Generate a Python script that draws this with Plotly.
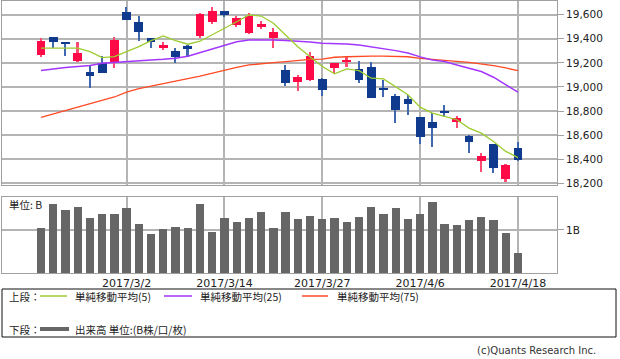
import plotly.graph_objects as go

dates = ["2017/2/21", "2017/2/22", "2017/2/23", "2017/2/24", "2017/2/27", "2017/2/28",
         "2017/3/1", "2017/3/2", "2017/3/3", "2017/3/6", "2017/3/7", "2017/3/8", "2017/3/9",
         "2017/3/10", "2017/3/13", "2017/3/14", "2017/3/15", "2017/3/16", "2017/3/17",
         "2017/3/21", "2017/3/22", "2017/3/23", "2017/3/24", "2017/3/27", "2017/3/28",
         "2017/3/29", "2017/3/30", "2017/3/31", "2017/4/3", "2017/4/4", "2017/4/5",
         "2017/4/6", "2017/4/7", "2017/4/10", "2017/4/11", "2017/4/12", "2017/4/13",
         "2017/4/14", "2017/4/17", "2017/4/18"]

opens = [19262, 19412, 19371, 19218, 19127, 19197, 19210, 19625, 19542, 19404,
         19330, 19301, 19340, 19423, 19537, 19631, 19515, 19446, 19500, 19409,
         19141, 19044, 19058, 19066, 19155, 19212, 19147, 19163, 18989, 18928,
         18898, 18753, 18707, 18795, 18707, 18596, 18386, 18527, 18234, 18496]
highs = [19405, 19412, 19371, 19376, 19174, 19260, 19417, 19666, 19589, 19404,
         19371, 19326, 19345, 19612, 19661, 19631, 19589, 19612, 19548, 19487,
         19183, 19100, 19293, 19077, 19200, 19246, 19216, 19205, 19058, 18939,
         18934, 18753, 18782, 18850, 18759, 18598, 18455, 18530, 18358, 18546]
lows = [19245, 19321, 19257, 19205, 18994, 19114, 19160, 19556, 19384, 19326,
        19307, 19197, 19251, 19410, 19523, 19583, 19500, 19440, 19484, 19326,
        19011, 18969, 19050, 18925, 19114, 19168, 19036, 18906, 18914, 18699,
        18768, 18524, 18504, 18753, 18657, 18450, 18297, 18284, 18214, 18386]
closes = [19385, 19371, 19357, 19280, 19094, 19114, 19390, 19556, 19459, 19371,
          19346, 19251, 19313, 19606, 19633, 19598, 19575, 19589, 19523, 19459,
          19031, 19085, 19260, 18975, 19197, 19220, 19058, 18906, 18975, 18809,
          18856, 18587, 18662, 18788, 18745, 18546, 18427, 18330, 18353, 18394]

ma5 = [19322, 19322, 19316, 19322, 19294, 19244, 19252, 19294, 19335, 19385,
       19424, 19385, 19355, 19380, 19432, 19485, 19542, 19598, 19589, 19529,
       19432, 19335, 19252, 19170, 19109, 19150, 19136, 19073, 19067, 18999,
       18935, 18833, 18783, 18755, 18728, 18659, 18617, 18548, 18465, 18414]
ma25 = [19136, 19150, 19161, 19170, 19178, 19197, 19205, 19211, 19216, 19225,
        19230, 19239, 19255, 19285, 19316, 19349, 19376, 19390, 19393, 19390,
        19385, 19382, 19374, 19363, 19363, 19357, 19349, 19335, 19322, 19302,
        19282, 19250, 19225, 19211, 19183, 19156, 19128, 19081, 19018, 18957]
ma75 = [18747, 18775, 18801, 18832, 18859, 18888, 18917, 18958, 18987, 19008,
        19027, 19050, 19070, 19091, 19116, 19141, 19162, 19183, 19195, 19202,
        19210, 19220, 19230, 19232, 19247, 19251, 19257, 19257, 19257, 19255,
        19251, 19238, 19228, 19218, 19212, 19205, 19193, 19177, 19158, 19135]

volume = [1.04, 1.60, 1.45, 1.53, 1.26, 1.36, 1.36, 1.49, 1.13, 0.90,
          1.01, 1.06, 1.04, 1.60, 0.95, 1.26, 1.17, 1.26, 1.40, 1.04,
          1.40, 1.24, 1.31, 1.24, 1.26, 1.17, 1.28, 1.53, 1.37, 1.51,
          1.24, 1.37, 1.64, 1.13, 1.10, 1.21, 1.30, 1.21, 0.91, 0.45]

tick_dates = ["2017/3/2", "2017/3/14", "2017/3/27", "2017/4/6", "2017/4/18"]
price_ticks = [18200, 18400, 18600, 18800, 19000, 19200, 19400, 19600]

UP = "#ff0a46"
DOWN = "#103a8e"
UP_WICK = "#ff4a72"
DOWN_WICK = "#3f68b0"
GRID = "#b4b4b4"
FRAME = "#a0a0a0"

up = [c >= o for o, c in zip(opens, closes)]
body_base = [min(o, c) for o, c in zip(opens, closes)]
body_h = [max(abs(c - o), 8) for o, c in zip(opens, closes)]
body_col = [UP if u else DOWN for u in up]
wick_col = [UP_WICK if u else DOWN_WICK for u in up]
wick_h = [h - l for h, l in zip(highs, lows)]

fig = go.Figure()
fig.add_trace(go.Bar(x=dates, y=wick_h, base=lows, width=0.13,
                     marker=dict(color=wick_col, line_width=0), xaxis="x", yaxis="y"))
fig.add_trace(go.Bar(x=dates, y=body_h, base=body_base, width=0.72,
                     marker=dict(color=body_col, line_width=0), xaxis="x", yaxis="y"))
fig.add_trace(go.Scatter(x=dates, y=ma75, mode="lines", line=dict(color="#ff4a24", width=1.3),
                         xaxis="x", yaxis="y"))
fig.add_trace(go.Scatter(x=dates, y=ma25, mode="lines", line=dict(color="#a236ff", width=1.5),
                         xaxis="x", yaxis="y"))
fig.add_trace(go.Scatter(x=dates, y=ma5, mode="lines", line=dict(color="#9ccc2e", width=1.3),
                         xaxis="x", yaxis="y"))
fig.add_trace(go.Bar(x=dates, y=volume, width=0.68, marker=dict(color="#666666", line_width=0),
                     xaxis="x2", yaxis="y2"))

xr = [-3.19, 42.19]
tickfont = dict(family="DejaVu Sans", size=10.5, color="#222")
common_x = dict(type="category", range=xr, tickmode="array", tickvals=tick_dates,
                showgrid=True, gridcolor=GRID, gridwidth=1.5, showline=True, mirror=True,
                linecolor=FRAME, linewidth=1, ticks="", fixedrange=True, zeroline=False)

fig.update_layout(
    width=620, height=359,
    margin=dict(l=2, r=63, t=1, b=86),
    paper_bgcolor="white", plot_bgcolor="white",
    showlegend=False, barmode="overlay", bargap=0,
    xaxis=dict(**common_x, anchor="y", domain=[0, 1], showticklabels=False),
    yaxis=dict(domain=[0.3217, 1], range=[18182, 19714], side="right",
               tickmode="array", tickvals=price_ticks, tickformat=",d",
               ticks="outside", ticklen=6, tickcolor=FRAME, tickfont=tickfont,
               showgrid=True, gridcolor=GRID, gridwidth=1.5, showline=True, mirror=True,
               linecolor=FRAME, linewidth=1, zeroline=False, fixedrange=True),
    xaxis2=dict(**common_x, anchor="y2", domain=[0, 1], ticktext=tick_dates,
                tickfont=dict(family="DejaVu Sans", size=11, color="#222")),
    yaxis2=dict(domain=[0, 0.278], range=[0, 1.755], side="right",
                tickmode="array", tickvals=[1], ticktext=["1B"],
                ticks="outside", ticklen=6, tickcolor=FRAME, tickfont=tickfont,
                showgrid=True, gridcolor=GRID, gridwidth=1.5, showline=True, mirror=True,
                linecolor=FRAME, linewidth=1, zeroline=False, fixedrange=True),
)

def px(xp):
    return (xp - 2) / 555.0

def py(yp):
    return (273 - yp) / 272.0

shapes = [
    dict(type="rect", xref="paper", yref="paper", x0=px(2), x1=px(616), y0=py(289), y1=py(337),
         line=dict(color="#111", width=1)),
    dict(type="line", xref="paper", yref="paper", x0=px(40), x1=px(67), y0=py(296), y1=py(296),
         line=dict(color="#9ccc2e", width=1.5)),
    dict(type="line", xref="paper", yref="paper", x0=px(164), x1=px(192), y0=py(296), y1=py(296),
         line=dict(color="#a236ff", width=1.5)),
    dict(type="line", xref="paper", yref="paper", x0=px(302), x1=px(328), y0=py(296), y1=py(296),
         line=dict(color="#ff4a24", width=1.5)),
    dict(type="line", xref="paper", yref="paper", x0=px(40), x1=px(69), y0=py(329), y1=py(329),
         line=dict(color="#666666", width=4)),
]
fig.update_layout(shapes=shapes)

jp = dict(family="Noto Sans CJK JP", size=10.5, color="#222")
texts = [
    ("上段：", 7, 296),
    ("単純移動平均(5)", 73, 296),
    ("単純移動平均(25)", 198, 296),
    ("単純移動平均(75)", 335, 296),
    ("下段：", 7, 329),
    ("出来高 単位:(B株/口/枚)", 73, 329),
    ("単位: B", 7, 204),
]
for t, x, y in texts:
    fig.add_annotation(text=t, x=px(x), y=py(y), xref="paper", yref="paper",
                       xanchor="left", yanchor="middle", showarrow=False, font=jp)
fig.add_annotation(text="(c)Quants Research Inc.", x=px(598), y=py(350), xref="paper",
                   yref="paper", xanchor="right", yanchor="middle", showarrow=False,
                   font=dict(family="DejaVu Sans", size=10, color="#333"))

fig.write_html("out.html", config={"displayModeBar": False},
               post_script="document.body.style.margin='0px';document.body.style.overflow='hidden';")
